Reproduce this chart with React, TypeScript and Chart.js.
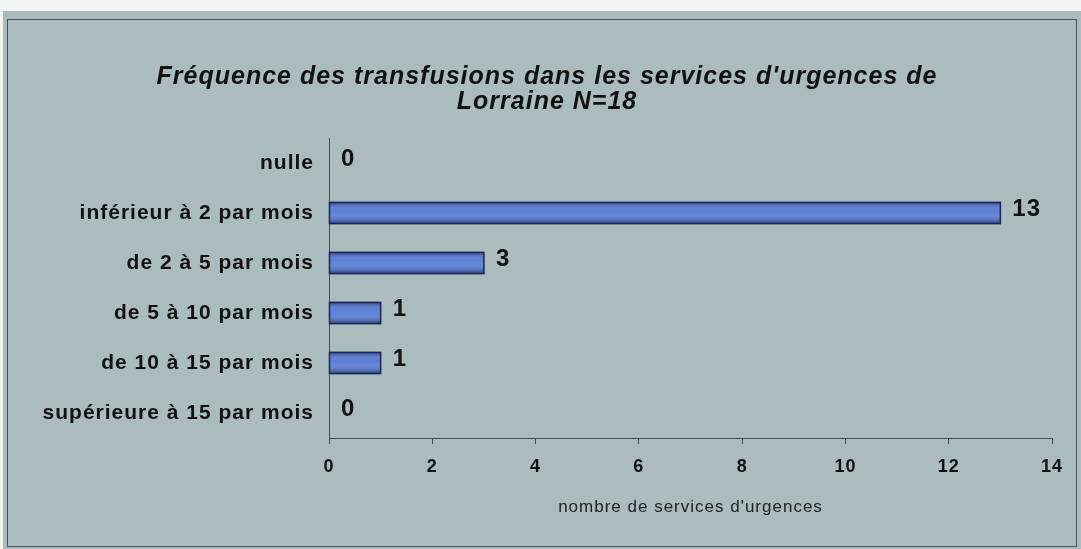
import React, { useEffect, useRef } from "react";
import { Chart, registerables } from "chart.js";

Chart.register(...registerables);

const categories = [
  "nulle",
  "inférieur à 2 par mois",
  "de 2 à 5 par mois",
  "de 5 à 10 par mois",
  "de 10 à 15 par mois",
  "supérieure à 15 par mois",
];
const counts = [0, 13, 3, 1, 1, 0];
const titleLines = [
  "Fréquence des transfusions dans les services d'urgences de",
  "Lorraine N=18",
];
const xAxisTitle = "nombre de services d'urgences";
const xMin = 0;
const xMax = 14;
const xStep = 2;

const FONT = "'Liberation Sans', Arial, sans-serif";
const PANEL = "#aabcbe";
const SPACING = "1px";

const spacingPlugin = {
  id: "letterSpacing",
  beforeUpdate(chart: any) {
    chart.ctx.letterSpacing = SPACING;
  },
  beforeLayout(chart: any) {
    chart.ctx.letterSpacing = SPACING;
  },
  beforeDraw(chart: any) {
    chart.ctx.letterSpacing = SPACING;
  },
};

const backgroundPlugin = {
  id: "panelBg",
  beforeDraw(chart: any) {
    const { ctx, width, height } = chart;
    ctx.save();
    ctx.fillStyle = "#f4f6f6";
    ctx.fillRect(0, 0, width, height);
    ctx.fillStyle = PANEL;
    ctx.fillRect(3, 11, width - 3, height - 11);
    ctx.strokeStyle = "#4a5456";
    ctx.lineWidth = 1;
    ctx.strokeRect(7.5, 19.5, width - 12, height - 22);
    ctx.restore();
  },
};

const barStylePlugin = {
  id: "barStyle",
  afterDatasetsDraw(chart: any) {
    const { ctx } = chart;
    const meta = chart.getDatasetMeta(0);
    ctx.save();
    meta.data.forEach((el: any, i: number) => {
      const { x, y, base, height } = el.getProps(["x", "y", "base", "height"], true);
      const left = Math.min(x, base);
      const w = Math.abs(x - base);
      const top = y - height / 2;
      if (w > 0) {
        const g = ctx.createLinearGradient(0, top, 0, top + height);
        g.addColorStop(0, "rgba(10,20,70,0.5)");
        g.addColorStop(0.35, "rgba(255,255,255,0.1)");
        g.addColorStop(0.55, "rgba(255,255,255,0.14)");
        g.addColorStop(1, "rgba(10,20,70,0.55)");
        ctx.fillStyle = g;
        ctx.fillRect(left, top, w, height);
        ctx.strokeStyle = "#1b2455";
        ctx.lineWidth = 1.5;
        ctx.strokeRect(left, top, w, height);
      }
      ctx.fillStyle = "#111";
      ctx.font = `bold 24px ${FONT}`;
      ctx.textAlign = "left";
      ctx.textBaseline = "middle";
      ctx.fillText(String(counts[i]), Math.max(x, base) + 12, y - 4);
    });
    ctx.restore();
  },
};

export default function App() {
  const ref = useRef<HTMLCanvasElement | null>(null);
  useEffect(() => {
    document.body.style.margin = "0";
    const canvas = ref.current!;
    const chart = new Chart(canvas, {
      type: "bar",
      data: {
        labels: categories,
        datasets: [
          {
            data: counts,
            backgroundColor: "#4a72d2",
            borderWidth: 0,
            barPercentage: 0.85,
            categoryPercentage: 0.5,
          },
        ],
      },
      options: {
        indexAxis: "y",
        animation: false,
        responsive: false,
        layout: { padding: { left: 42, right: 29, top: 0, bottom: 0 } },
        plugins: {
          legend: { display: false },
          tooltip: { enabled: false },
          title: {
            display: true,
            text: titleLines,
            color: "#111",
            font: { family: FONT, size: 25, weight: "bold", style: "italic", lineHeight: 1.0 },
            padding: { top: 65, bottom: 23 },
          },
        },
        scales: {
          x: {
            min: xMin,
            max: xMax,
            ticks: {
              stepSize: xStep,
              color: "#111",
              font: { family: FONT, size: 18, weight: "bold" },
              padding: 12,
            },
            grid: {
              drawOnChartArea: false,
              drawTicks: true,
              tickLength: 6,
              color: "#4a4a4a",
            },
            border: { display: true, color: "#4a4a4a", width: 1 },
            title: {
              display: true,
              text: xAxisTitle,
              color: "#222",
              font: { family: FONT, size: 17 },
              padding: { top: 0, bottom: 31 },
            },
            afterFit(scale: any) {
              scale.height = 111;
            },
          },
          y: {
            ticks: {
              color: "#111",
              font: { family: FONT, size: 21, weight: "bold" },
              padding: 15,
            },
            grid: { display: false, drawTicks: false },
            border: { display: true, color: "#4a4a4a", width: 1 },
            afterFit(scale: any) {
              scale.width = 287;
            },
          },
        },
      },
      plugins: [spacingPlugin, backgroundPlugin, barStylePlugin],
    });
    return () => chart.destroy();
  }, []);
  return <canvas ref={ref} width={1081} height={549} style={{ display: "block" }} />;
}
